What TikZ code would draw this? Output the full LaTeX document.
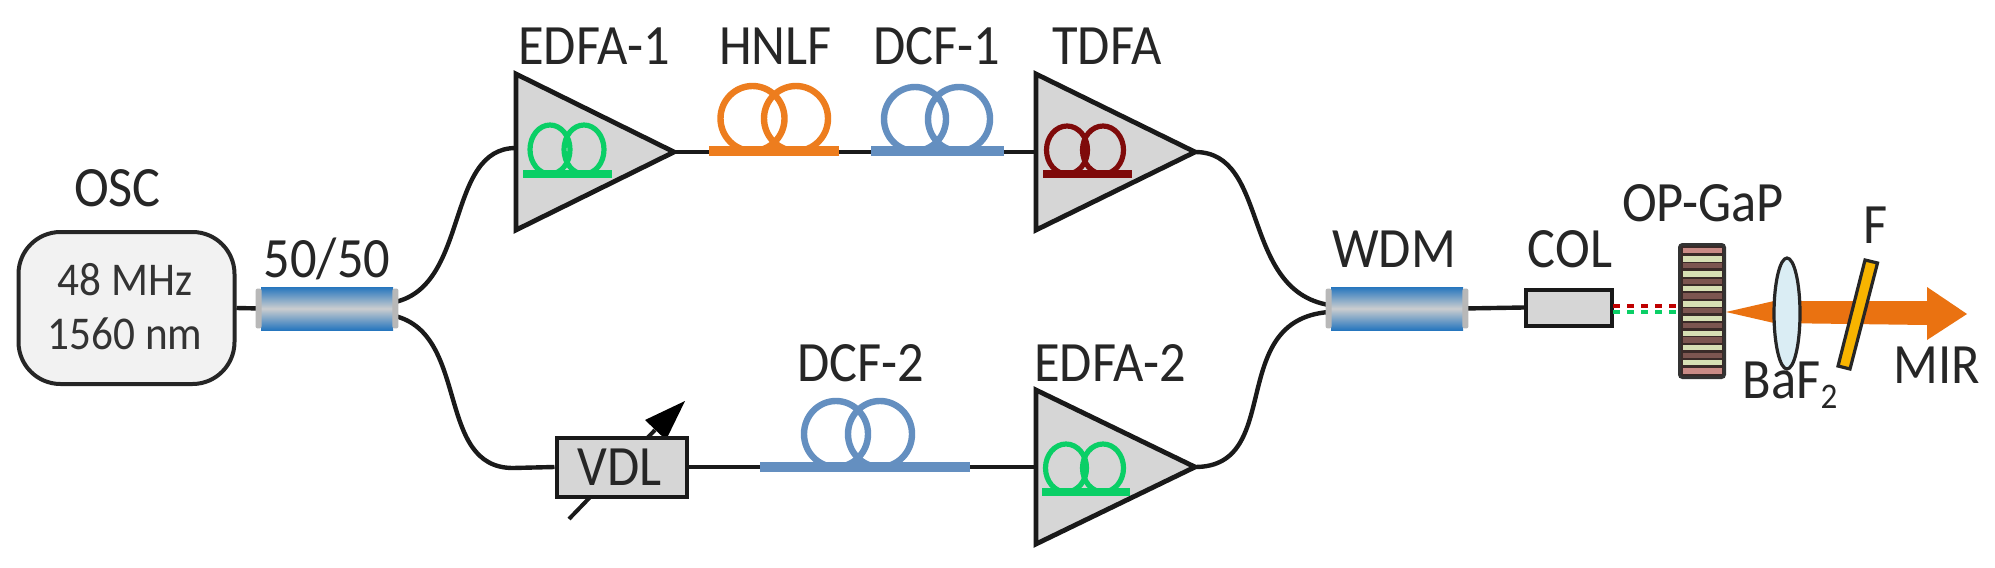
\documentclass[tikz,border=0pt]{standalone}
\usepackage{fontspec}
\setmainfont[FakeStretch=0.92]{Carlito}
\usetikzlibrary{calc,shapes.geometric}
\definecolor{fiberk}{HTML}{1A1A1A}
\definecolor{ampgrey}{HTML}{D6D6D6}
\definecolor{oscgrey}{HTML}{F2F2F2}
\definecolor{edfagreen}{HTML}{0ACF66}
\definecolor{tdfared}{HTML}{7F0A0A}
\definecolor{hnlforange}{HTML}{ED7D1E}
\definecolor{dcfblue}{HTML}{648FC0}
\definecolor{cplblue}{HTML}{2676BE}
\definecolor{cplmid}{HTML}{CBCDCF}
\definecolor{beam}{HTML}{EA7211}
\definecolor{lensblue}{HTML}{DAEDF4}
\definecolor{filteryellow}{HTML}{F8B400}
\definecolor{stripepink}{HTML}{C98A85}
\definecolor{stripegreen}{HTML}{D7DFB4}
\definecolor{stripedark}{HTML}{7C5550}
\definecolor{stackbg}{HTML}{3A2A28}
\tikzset{
  lab/.style={anchor=base,font=\fontsize{28.5}{32}\selectfont,text=black!85,inner sep=0pt},
  smalllab/.style={anchor=base,font=\fontsize{23.5}{27}\selectfont,text=black!80,inner sep=0pt},
  oscbox/.style={draw=black!85,line width=2pt,rounded corners=21pt,fill=oscgrey,
    minimum width=108pt,minimum height=76pt,inner sep=0pt},
  greybox/.style={draw=black!90,line width=2pt,fill=ampgrey,inner sep=0pt},
  coupler/.style={inner sep=0pt,minimum width=66pt,minimum height=21.5pt,draw=none,
    top color=cplblue,bottom color=cplblue,middle color=cplmid},
  coupcap/.style={fill=black!28,draw=none,rounded corners=1pt},
  fiber/.style={draw=fiberk,line width=2.2pt},
  amp/.style={draw=black!90,line width=2.4pt,fill=ampgrey,line join=miter},
}
% base x1, base x2, loop centre x1, loop centre x2, loop top y, base y, colour, rx, width
\newcommand{\coilshape}[9]{%
  \pgfmathsetmacro{\cry}{(#6-#5)/2}%
  \pgfmathsetmacro{\ccy}{#5+\cry}%
  \draw[#7,line width=#9] (#3,\ccy) ellipse[x radius=#8,y radius=\cry];
  \draw[#7,line width=#9] (#4,\ccy) ellipse[x radius=#8,y radius=\cry];
  \draw[#7,line width=1.5*#9] (#1,#6) -- (#2,#6);
}
\begin{document}
\begin{tikzpicture}[x=0.5pt,y=-0.5pt]
\useasboundingbox (0,0) rectangle (1995,567);
\fill[white] (0,0) rectangle (1995,567);

% anchors of the amplifier triangles
\coordinate (eaIn) at (516,148);
\coordinate (eaOut) at (674,152);
\coordinate (tdIn) at (1036,152);
\coordinate (tdOut) at (1195,152);
\coordinate (ebIn) at (1036,467);
\coordinate (ebOut) at (1195,467);
\coordinate (cplUp) at (395,302);
\coordinate (cplDn) at (395,316);
\coordinate (wdmUp) at (1329,305);
\coordinate (wdmDn) at (1329,312);
\coordinate (vdlBend) at (513,468);

% VDL arrow (runs behind the box)
\coordinate (vdlA) at (569,519);
\coordinate (vdlB) at (655,430);
\coordinate (vdlTip) at (685,401);
\draw[fiberk,line width=2pt] (vdlA) -- (vdlB);
\fill[black] (vdlTip) -- (645,420) -- (666,440) -- cycle;

% straight fibre
\node[oscbox,minimum width=108pt] (osc) at (126.5,308) {};
\node[coupler] (cpl) at (327,308.5) {};
\node[coupler] (wdm) at (1397,308.5) {};
\node[greybox,minimum width=65pt,minimum height=29.5pt] (vdl) at (621.5,467) {};
\node[greybox,minimum width=43pt,minimum height=18pt] (col) at (1569,307.5) {};
\draw[fiber] (osc.east) -- (cpl.west);
\draw[fiber] (eaOut) -- (tdIn);
\draw[fiber] (vdl.east) -- (ebIn);
\draw[fiber] (vdlBend) -- (vdl.west);
\draw[fiber] (wdm.east) -- (col.west);

% curved fibre
\draw[fiber] (cplUp) .. controls (470,285) and (445,148) .. (eaIn);
\draw[fiber] (cplDn) .. controls (470,335) and (435,468) .. (vdlBend);
\draw[fiber] (tdOut) .. controls (1270,152) and (1240,290) .. (wdmUp);
\draw[fiber] (ebOut) .. controls (1285,467) and (1225,320) .. (wdmDn);

% coupler end caps
\fill[coupcap] (cpl.north west) ++(-5,2) rectangle ($(cpl.south west)+(1,-2)$);
\fill[coupcap] (cpl.north east) ++(-1,2) rectangle ($(cpl.south east)+(5,-2)$);
\fill[coupcap] (wdm.north west) ++(-5,2) rectangle ($(wdm.south west)+(1,-2)$);
\fill[coupcap] (wdm.north east) ++(-1,2) rectangle ($(wdm.south east)+(5,-2)$);

% amplifiers
\draw[amp] (516,74) -- (eaOut) -- (516,230) -- cycle;
\draw[amp] (1036,74) -- (tdOut) -- (1036,230) -- cycle;
\draw[amp] (1036,390) -- (ebOut) -- (1036,544) -- cycle;

% fibre coils
\coilshape{523}{612}{550}{584}{125}{174}{edfagreen}{20}{2.6pt}
\coilshape{1043}{1132}{1067}{1103}{126}{174}{tdfared}{20.5}{2.6pt}
\coilshape{1042}{1130}{1066}{1103}{444}{492}{edfagreen}{20.5}{2.6pt}
\coilshape{709}{839}{752.5}{796}{86}{151}{hnlforange}{32}{3.2pt}
\coilshape{871}{1004}{915}{959}{87}{151}{dcfblue}{31}{3.2pt}
\coilshape{760}{970}{836}{880}{401}{467}{dcfblue}{32}{3.2pt}

\node[lab] (vdlt) at (620,485) {VDL};

% beam
\coordinate (bmStart) at (1726,312);
\coordinate (bmTip) at (1967,314);
\fill[beam] (bmStart) -- (1774,301) -- (1927,301) -- (1927,287) -- (bmTip) -- (1927,340) -- (1927,325) -- (1774,323) -- cycle;

% pump / signal beams
\coordinate (colR) at (1613,306);
\coordinate (colG) at (1613,312);
\coordinate (stkR) at (1680,306);
\coordinate (stkG) at (1680,312);
\draw[red!75!black,line width=2.2pt,dash pattern=on 3.5pt off 3.5pt] (colR) -- (stkR);
\draw[edfagreen,line width=2.2pt,dash pattern=on 3.5pt off 3.5pt] (colG) -- (stkG);

% OP-GaP stack
\node[draw=black!80,fill=stackbg,line width=1.5pt,rounded corners=1.5pt,minimum width=22.5pt,minimum height=66.5pt,inner sep=0pt] (stack) at (1702,311) {};
\foreach \yy/\cc in {250.7/stripepink,259/stripegreen,265.7/stripedark,274/stripegreen,281.7/stripedark,288.3/stripegreen,296/stripedark,304/stripegreen,310.7/stripedark,318.3/stripegreen,325.7/stripedark,333.3/stripegreen,340/stripedark,347.7/stripegreen,355.7/stripedark,362.3/stripegreen,371/stripepink}
  \fill[\cc] (1683,\yy-2.6) rectangle (1722,\yy+2.6);

% lens and filter
\node[draw=black!85,line width=1.6pt,fill=lensblue,ellipse,minimum width=13pt,minimum height=55.5pt,inner sep=0pt] (lens) at (1787,313.5) {};
\draw[draw=black!85,line width=1.6pt,fill=filteryellow] (1865,260) -- (1877.5,263) -- (1850,369) -- (1838,366) -- cycle;

% labels
\node[lab] (l1) at (594,65) {EDFA-1};
\node[lab] (l2) at (775.5,65) {HNLF};
\node[lab] (l3) at (937,65) {DCF-1};
\node[lab] (l4) at (1107,65) {TDFA};
\node[lab] (l5) at (861,381) {DCF-2};
\node[lab] (l6) at (1110,381) {EDFA-2};
\node[lab] (l7) at (117.5,206) {OSC};
\node[lab] (l8) at (327,277) {50/50};
\node[lab] (l9) at (1394,267) {WDM};
\node[lab] (l10) at (1570,267) {COL};
\node[lab] (l11) at (1703,221) {OP-GaP};
\node[lab] (l12) at (1876,243) {F};
\node[lab] (l13) at (1790,398) {BaF\raisebox{-5pt}{\fontsize{18}{20}\selectfont 2}};
\node[lab] (l14) at (1937,383) {MIR};
\node[smalllab] (l15) at (125,295) {48 MHz};
\node[smalllab] (l16) at (125,349) {1560 nm};
\end{tikzpicture}
\end{document}
